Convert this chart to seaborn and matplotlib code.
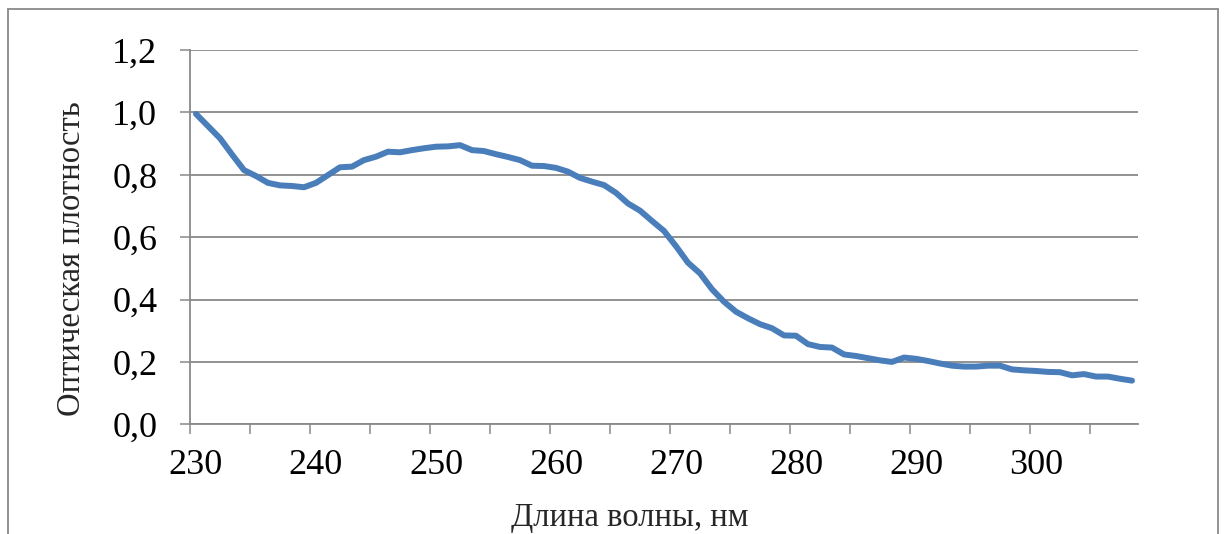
import numpy as np
import pandas as pd
import seaborn as sns
import matplotlib
matplotlib.use("Agg")
import matplotlib.pyplot as plt
from matplotlib.ticker import FixedLocator, FuncFormatter
from matplotlib.patches import Rectangle

# Absorption spectrum, one reading per nanometre
wavelength = list(range(230, 309))
optical_density = [
    0.995, 0.956, 0.917, 0.865, 0.815, 0.796, 0.774, 0.766, 0.764, 0.760,
    0.774, 0.799, 0.824, 0.826, 0.847, 0.858, 0.874, 0.872, 0.879, 0.885,
    0.890, 0.891, 0.895, 0.879, 0.876, 0.866, 0.857, 0.847, 0.829, 0.828,
    0.822, 0.810, 0.790, 0.778, 0.767, 0.742, 0.708, 0.685, 0.652, 0.620,
    0.571, 0.518, 0.484, 0.433, 0.393, 0.361, 0.340, 0.321, 0.308, 0.285,
    0.284, 0.257, 0.248, 0.246, 0.224, 0.219, 0.212, 0.205, 0.200, 0.214,
    0.210, 0.203, 0.195, 0.188, 0.185, 0.185, 0.188, 0.188, 0.176, 0.173,
    0.171, 0.168, 0.167, 0.157, 0.161, 0.153, 0.153, 0.146, 0.140,
]
x_tick_labels = [230, 240, 250, 260, 270, 280, 290, 300]
y_ticks = [0.0, 0.2, 0.4, 0.6, 0.8, 1.0, 1.2]
x_title = "Длина волны, нм"
y_title = "Оптическая плотность"

df = pd.DataFrame({"wl": wavelength, "od": optical_density})

sns.set_style("white")
plt.rcParams["font.family"] = ["Liberation Serif", "DejaVu Serif"]

grey = "#898989"
fig = plt.figure(figsize=(12.25, 5.34), dpi=100)
ax = fig.add_axes([190 / 1225, 1 - 424.3 / 534, 948 / 1225, 374.3 / 534])

sns.lineplot(data=df, x="wl", y="od", ax=ax, color="#4A7EBB", linewidth=4.3,
             solid_capstyle="round", solid_joinstyle="round", zorder=3)

ax.set_xlim(wavelength[0] - 0.5, wavelength[-1] + 0.5)
ax.set_ylim(0, 1.2)

# category labels centred on points, tick marks on category boundaries
ax.xaxis.set_major_locator(FixedLocator(x_tick_labels))
ax.xaxis.set_minor_locator(FixedLocator(np.arange(wavelength[0] - 0.5, wavelength[-1], 5)))
ax.tick_params(axis="x", which="major", length=0, pad=18, labelsize=26, labelcolor="black")
ax.tick_params(axis="x", which="minor", length=7.5, width=1.1, color=grey, direction="out")

ax.yaxis.set_major_locator(FixedLocator(y_ticks))
ax.yaxis.set_major_formatter(FuncFormatter(lambda v, p: f"{v:.1f}".replace(".", ",")))
ax.tick_params(axis="y", which="major", length=7.5, width=1.1, color=grey, direction="out",
               pad=16, labelsize=26, labelcolor="black")
ax.tick_params(left=True, bottom=False, which="major", axis="both")
ax.tick_params(axis="x", which="minor", bottom=True)

ax.grid(axis="y", color=grey, linewidth=1.3)
ax.grid(axis="x", visible=False)
ax.set_axisbelow(True)

for side in ("top", "right"):
    ax.spines[side].set_visible(False)
for side in ("left", "bottom"):
    ax.spines[side].set_color(grey)
    ax.spines[side].set_linewidth(1.3)

ax.set_xlabel("")
ax.set_ylabel("")
fig.text(630 / 1225, 1 - 518 / 534, x_title, ha="center", va="center", fontsize=23.5)
fig.text(72 / 1225, 1 - 259 / 534, y_title, ha="center", va="center", rotation=90, fontsize=23.5)

# chart area border
fig.patches.append(Rectangle((8 / 1225, -0.2), 1210 / 1225, 1.2 - 9 / 534,
                             transform=fig.transFigure, fill=False,
                             edgecolor=grey, linewidth=1.3))

fig.savefig("out.png", dpi=100)
